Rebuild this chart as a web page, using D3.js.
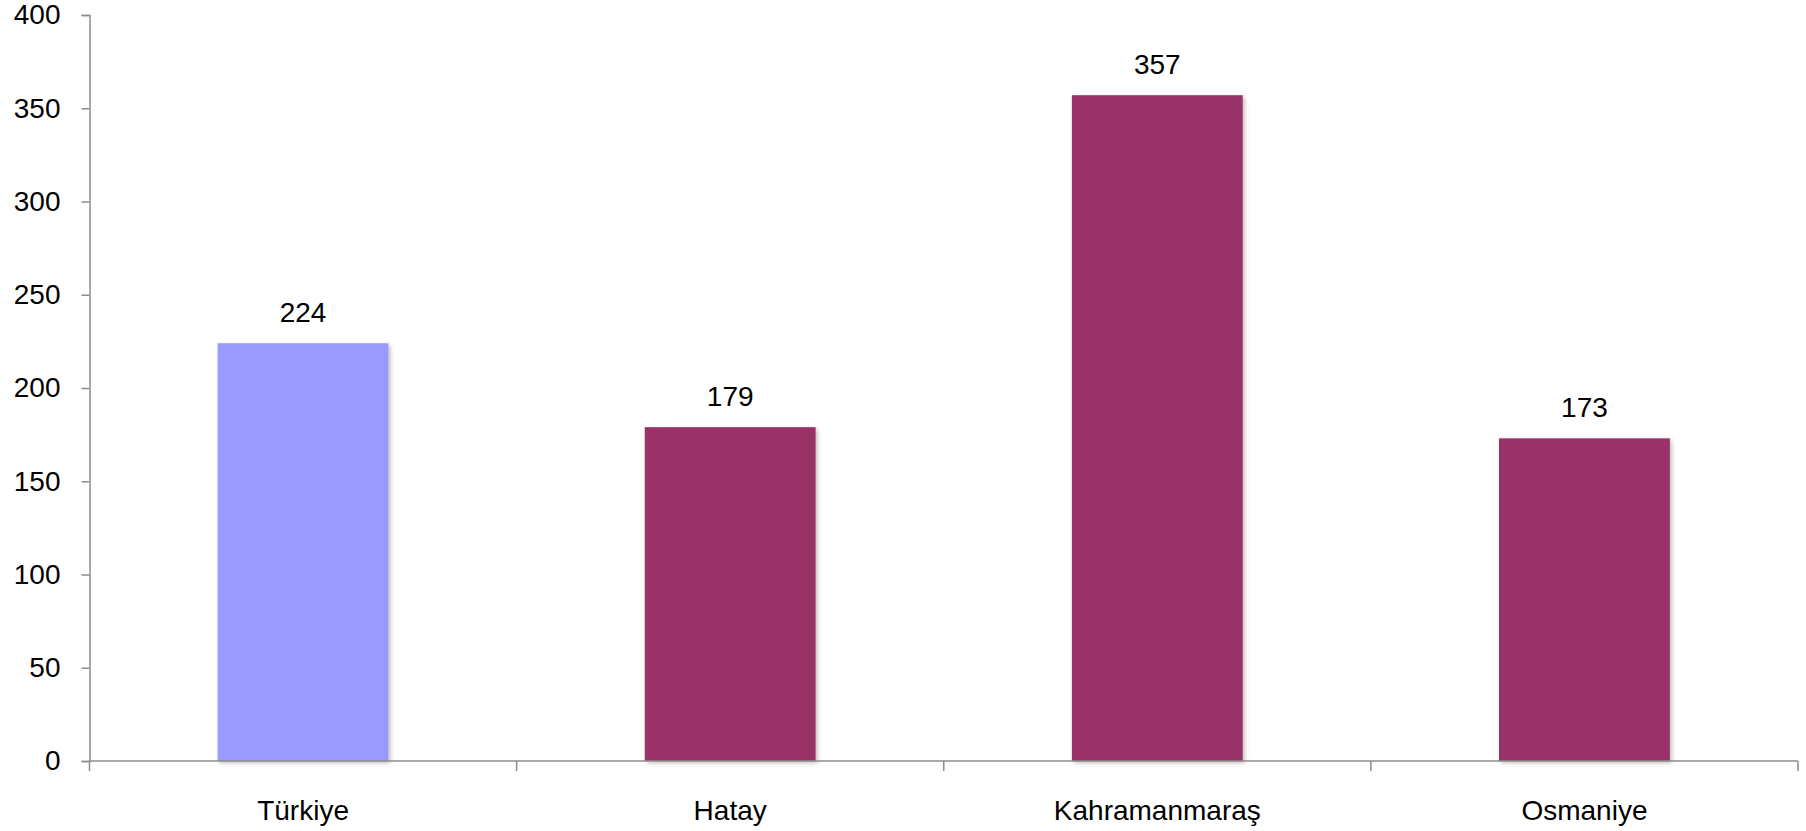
<!DOCTYPE html>
<html>
<head>
<meta charset="utf-8">
<script src="https://cdn.jsdelivr.net/npm/d3@7"></script>
<style>
  body { margin: 0; background: #fff; }
  svg text { font-family: "Liberation Sans", Arial, sans-serif; fill: #000; }
</style>
</head>
<body>
<div id="chart"></div>
<script>
// chart values
var categories = ['Türkiye', 'Hatay', 'Kahramanmaraş', 'Osmaniye'];
var values = [224, 179, 357, 173];
var barColors = ['#9999ff', '#993366', '#993366', '#993366'];
var yTicks = [0, 50, 100, 150, 200, 250, 300, 350, 400];

var width = 1806, height = 831;
var margin = { top: 15, left: 89.5, right: 8, bottom: 70 };

var svg = d3.select('#chart').append('svg')
  .attr('width', width)
  .attr('height', height);

// soft shadow like the office chart
var defs = svg.append('defs');
var f = defs.append('filter').attr('id', 'shadow')
  .attr('x', '-10%').attr('y', '-10%').attr('width', '130%').attr('height', '130%');
f.append('feDropShadow')
  .attr('dx', 2).attr('dy', 2).attr('stdDeviation', 2)
  .attr('flood-color', '#000').attr('flood-opacity', 0.25);

var x = d3.scaleBand()
  .domain(categories)
  .range([margin.left, width - margin.right])
  .paddingInner(0.6)
  .paddingOuter(0.3);

var y = d3.scaleLinear()
  .domain([0, 400])
  .range([height - margin.bottom, margin.top]);

var axisColor = '#8c8c8c';

// bars
svg.selectAll('.bar')
  .data(values)
  .enter()
  .append('rect')
  .attr('class', 'bar')
  .attr('x', (d, i) => x(categories[i]))
  .attr('y', d => y(d))
  .attr('width', x.bandwidth())
  .attr('height', d => y(0) - y(d))
  .attr('fill', (d, i) => barColors[i])
  .attr('filter', 'url(#shadow)');

// value labels
svg.selectAll('.val')
  .data(values)
  .enter()
  .append('text')
  .attr('class', 'val')
  .attr('x', (d, i) => x(categories[i]) + x.bandwidth() / 2)
  .attr('y', d => y(d) - 21)
  .attr('text-anchor', 'middle')
  .style('font-size', '28px')
  .text(d => d);

// y axis
var yAxis = svg.append('g')
  .attr('transform', 'translate(' + margin.left + ',0)')
  .call(d3.axisLeft(y).tickValues(yTicks).tickSize(8).tickPadding(21));
yAxis.select('.domain').attr('stroke', axisColor).attr('stroke-width', 1.5);
yAxis.selectAll('.tick line').attr('stroke', axisColor).attr('stroke-width', 1.5);
yAxis.selectAll('.tick text')
  .style('font-size', '28px')
  .style('font-family', '"Liberation Sans", Arial, sans-serif')
  .attr('fill', '#000');

// x axis line with boundary ticks
var x0 = margin.left, x1 = width - margin.right;
var step = x.step();
var boundaries = d3.range(categories.length + 1).map(i => x0 + i * step);
svg.append('line')
  .attr('x1', x0).attr('x2', x1)
  .attr('y1', y(0)).attr('y2', y(0))
  .attr('stroke', axisColor).attr('stroke-width', 1.5);
svg.selectAll('.xtick')
  .data(boundaries)
  .enter()
  .append('line')
  .attr('class', 'xtick')
  .attr('x1', d => d).attr('x2', d => d)
  .attr('y1', y(0)).attr('y2', y(0) + 10)
  .attr('stroke', axisColor).attr('stroke-width', 1.5);

// category labels
svg.selectAll('.cat')
  .data(categories)
  .enter()
  .append('text')
  .attr('class', 'cat')
  .attr('x', d => x(d) + x.bandwidth() / 2)
  .attr('y', y(0) + 59)
  .attr('text-anchor', 'middle')
  .style('font-size', '28px')
  .text(d => d);
</script>
</body>
</html>
